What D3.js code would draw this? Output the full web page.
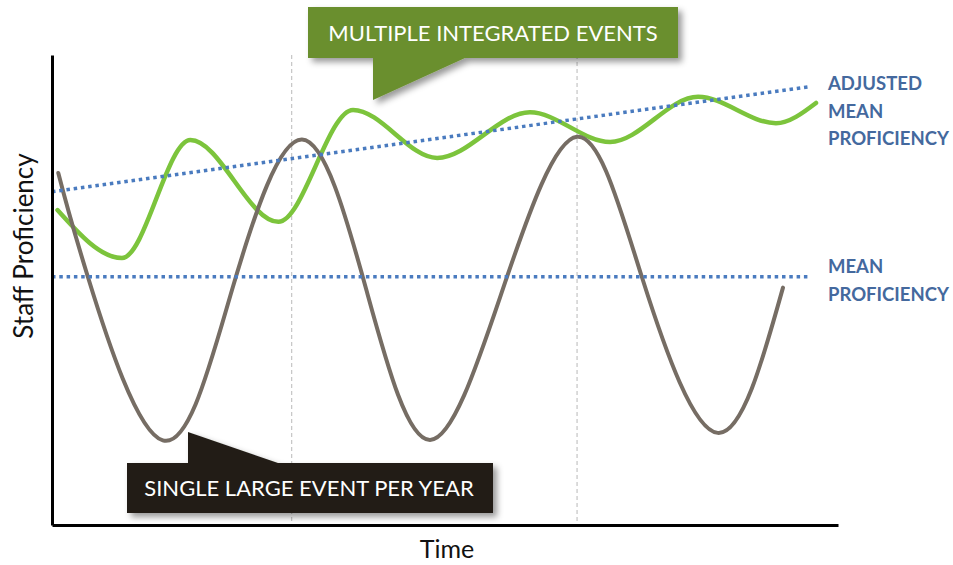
<!DOCTYPE html>
<html>
<head>
<meta charset="utf-8">
<script src="https://cdn.jsdelivr.net/npm/d3@7"></script>
<style>
  body { margin: 0; background: #fff; }
  svg { display: block; }
</style>
</head>
<body>
<svg id="chart" width="953" height="565"></svg>
<script>
// time runs 0..100, proficiency 0..100 (arbitrary units)
var yearMarks = [30.5, 66.8];

var singleT = [0.8, 4.6, 14.1, 22.9, 31.8, 40, 48.1, 57.4, 66.8, 75.1, 84.7, 93];
var singleV = [74.9, 52.6, 18.0, 50.0, 82.0, 50.0, 18.1, 50.4, 82.6, 52.5, 19.6, 50.5];

var integratedT = [0.7, 8.9, 17.6, 28.8, 38.3, 49.0, 60.8, 71.0, 82.2, 92.1, 97.2];
var integratedV = [67.0, 56.8, 81.9, 64.5, 88.3, 78.1, 87.8, 81.5, 91.1, 85.5, 89.8];

var meanT = [0, 96.2];
var meanV = [52.8, 52.8];
var adjustedT = [0, 96.2];
var adjustedV = [70.9, 93.2];

var svg = d3.select("#chart");
var x = d3.scaleLinear().domain([0, 100]).range([52, 838]);
var y = d3.scaleLinear().domain([0, 100]).range([525, 55]);

var defs = svg.append("defs");
var shadow = defs.append("filter").attr("id", "shadow")
  .attr("x", "-10%").attr("y", "-20%").attr("width", "130%").attr("height", "160%");
shadow.append("feDropShadow")
  .attr("dx", 4).attr("dy", 4).attr("stdDeviation", 3)
  .attr("flood-color", "#000").attr("flood-opacity", 0.4);

// year separators
svg.selectAll(".year")
  .data(yearMarks)
  .enter()
  .append("line")
  .attr("class", "year")
  .attr("x1", function (d) { return x(d); })
  .attr("x2", function (d) { return x(d); })
  .attr("y1", y(100))
  .attr("y2", y(0))
  .attr("stroke", "#b9b9b9")
  .attr("stroke-width", 1)
  .attr("stroke-dasharray", "4,3");

function pts(ts, vs) {
  return ts.map(function (t, i) { return [t, vs[i]]; });
}

function line(c) {
  return d3.line()
    .x(function (d) { return x(d[0]); })
    .y(function (d) { return y(d[1]); })
    .curve(c);
}

svg.append("path")
  .attr("d", line(d3.curveMonotoneX)(pts(integratedT, integratedV)))
  .attr("fill", "none")
  .attr("stroke", "#7cc43c")
  .attr("stroke-width", 4.5)
  .attr("stroke-linecap", "round");

svg.append("path")
  .attr("d", line(d3.curveNatural)(pts(singleT, singleV)))
  .attr("fill", "none")
  .attr("stroke", "#766d64")
  .attr("stroke-width", 4)
  .attr("stroke-linecap", "round");

[[meanT, meanV], [adjustedT, adjustedV]].forEach(function (s) {
  svg.append("path")
    .attr("d", line(d3.curveLinear)(pts(s[0], s[1])))
    .attr("fill", "none")
    .attr("stroke", "#4a7bbf")
    .attr("stroke-width", 3.5)
    .attr("stroke-dasharray", "3.5,3.8");
});

// axes
svg.append("g")
  .attr("transform", "translate(0," + y(0) + ")")
  .call(d3.axisBottom(x).ticks(0).tickSizeOuter(0))
  .select(".domain").attr("stroke", "#000").attr("stroke-width", 3);
svg.append("g")
  .attr("transform", "translate(" + x(0) + ",0)")
  .call(d3.axisLeft(y).ticks(0).tickSizeOuter(0))
  .select(".domain").attr("stroke", "#000").attr("stroke-width", 3);

svg.append("text")
  .attr("x", 447).attr("y", 558)
  .attr("text-anchor", "middle")
  .style("font-family", "Lato, sans-serif")
  .style("font-size", "25px")
  .attr("fill", "#111")
  .text("Time");

svg.append("text")
  .attr("transform", "translate(33,246)rotate(-90)")
  .attr("text-anchor", "middle")
  .style("font-family", "Lato, sans-serif")
  .style("font-size", "26px")
  .attr("fill", "#111")
  .text("Staff Proficiency");

// right-hand labels
var labelColor = "#44699e";
function label(lines, top) {
  var t = svg.append("text")
    .attr("x", 828)
    .style("font-family", "Lato, sans-serif")
    .style("font-weight", "bold")
    .style("font-size", "18.5px")
    .attr("fill", labelColor);
  lines.forEach(function (l, i) {
    t.append("tspan").attr("x", 828).attr("y", top + i * 27.5).text(l);
  });
}
label(["ADJUSTED", "MEAN", "PROFICIENCY"], 90);
label(["MEAN", "PROFICIENCY"], 273);

// callouts
svg.append("path")
  .attr("d", "M308,7H678V58H465L373,100V58H308Z")
  .attr("fill", "#6b8f2f")
  .attr("filter", "url(#shadow)");
svg.append("text")
  .attr("x", 493).attr("y", 41)
  .attr("text-anchor", "middle")
  .style("font-family", "Lato, sans-serif")
  .style("font-size", "22px")
  .attr("fill", "#fff")
  .text("MULTIPLE INTEGRATED EVENTS");

svg.append("path")
  .attr("d", "M127,463H188V432L278,463H493V513H127Z")
  .attr("fill", "#231f18")
  .attr("filter", "url(#shadow)");
svg.append("text")
  .attr("x", 309).attr("y", 496)
  .attr("text-anchor", "middle")
  .style("font-family", "Lato, sans-serif")
  .style("font-size", "22px")
  .attr("fill", "#fff")
  .text("SINGLE LARGE EVENT PER YEAR");
</script>
</body>
</html>
